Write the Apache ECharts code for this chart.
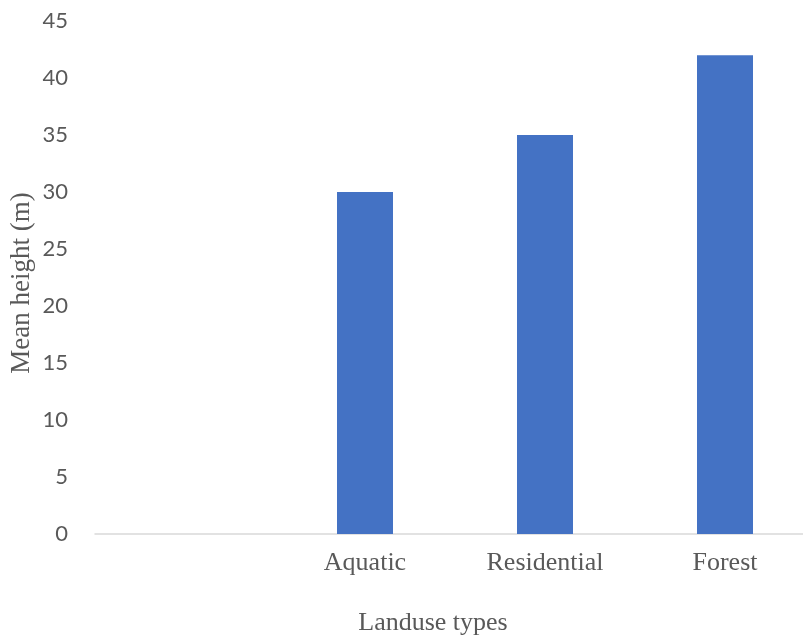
<!DOCTYPE html>
<html lang="en">
<head>
  <meta charset="UTF-8">
  <title>Mean height by landuse</title>
  <script src="https://cdn.jsdelivr.net/npm/echarts@6/dist/echarts.min.js"></script>
  <style>
    * { margin: 0; padding: 0; }
    body { background: #fff; }
    #chart { width: 803px; height: 637px; }
  </style>
</head>
<body>
  <div id="chart"></div>
  <script type="text/javascript">
    // first category is blank in the original figure
    const categories = ['', 'Aquatic', 'Residential', 'Forest']
    const meanHeight = [null, 30, 35, 42]
    const yTicks = [0, 5, 10, 15, 20, 25, 30, 35, 40, 45]

    var myChart = echarts.init(document.getElementById('chart'))
    var serif = '"Liberation Serif", "Times New Roman", serif'
    var option = {
      animation: false,
      grid: { left: 95, top: 21, width: 720, bottom: 103, outerBoundsMode: 'none' },
      xAxis: {
        type: 'category',
        data: categories,
        axisLine: { lineStyle: { color: '#d9d9d9', width: 1.5 } },
        axisTick: { show: false },
        axisLabel: { color: '#595959', fontFamily: serif, fontSize: 26, margin: 16 }
      },
      yAxis: {
        type: 'value',
        min: yTicks[0],
        max: yTicks[yTicks.length - 1],
        interval: 5,
        splitLine: { show: false },
        axisLine: { show: false },
        axisTick: { show: false },
        axisLabel: { color: '#595959', fontFamily: 'Lato, "Open Sans", sans-serif', fontSize: 22, margin: 27 }
      },
      series: [{
        type: 'bar',
        data: meanHeight,
        barWidth: 56,
        itemStyle: { color: '#4472c4' }
      }],
      graphic: [
        {
          type: 'text', x: 433, y: 623,
          style: { text: 'Landuse types', fill: '#595959', font: '26px ' + serif, align: 'center', verticalAlign: 'middle' }
        },
        {
          type: 'text', x: 22, y: 283, rotation: Math.PI / 2,
          style: { text: 'Mean height (m)', fill: '#595959', font: '27px ' + serif, align: 'center', verticalAlign: 'middle' }
        }
      ]
    }
    myChart.setOption(option)
  </script>
</body>
</html>
